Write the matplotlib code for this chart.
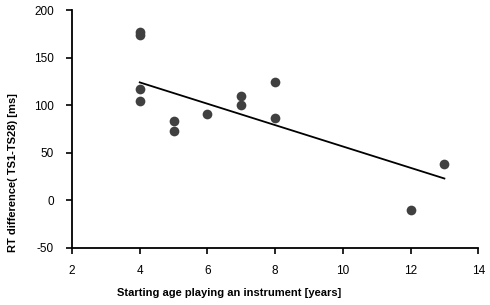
import matplotlib
matplotlib.use("Agg")
import matplotlib.pyplot as plt
import numpy as np

# starting age vs RT difference
start_age = [4, 4, 4, 4, 5, 5, 6, 7, 7, 8, 8, 12, 13]
rt_diff = [177, 174, 117, 104, 83, 73, 91, 110, 100, 124, 87, -10, 38]

# regression line end points
fit_x = [4, 13]
fit_y = [124, 23]

x_ticks = [2, 4, 6, 8, 10, 12, 14]
y_ticks = [-50, 0, 50, 100, 150, 200]

plt.rcParams['font.family'] = ['Liberation Sans', 'DejaVu Sans']
plt.rcParams['axes.unicode_minus'] = False

fig = plt.figure(figsize=(4.9, 3.05), dpi=100)
ax = fig.add_axes([0.147, 0.187, 0.829, 0.780])

ax.plot(fit_x, fit_y, color='black', linewidth=1.3, zorder=2)
ax.plot(start_age, rt_diff, linestyle='none', marker='o', markersize=7,
        color='#404040', markeredgewidth=0, zorder=3)

ax.set_xlim(2, 14)
ax.set_ylim(-50, 200)
ax.set_xticks(x_ticks)
ax.set_yticks(y_ticks)

ax.spines['top'].set_visible(False)
ax.spines['right'].set_visible(False)
ax.spines['left'].set_linewidth(1.3)
ax.spines['bottom'].set_linewidth(1.3)
ax.tick_params(axis='both', direction='out', length=4, width=1.2, labelsize=8.5, colors='black')
ax.tick_params(axis='y', pad=9)
ax.tick_params(axis='x', pad=8)

ax.set_xlabel('Starting age playing an instrument [years]', fontsize=8, fontweight='bold', va='center')
ax.xaxis.set_label_coords(0.387, -0.188)
ax.set_ylabel('RT difference( TS1-TS28) [ms]', fontsize=8, fontweight='bold', va='center')
ax.yaxis.set_label_coords(-0.145, 0.319)

fig.savefig('out.png', dpi=100)
